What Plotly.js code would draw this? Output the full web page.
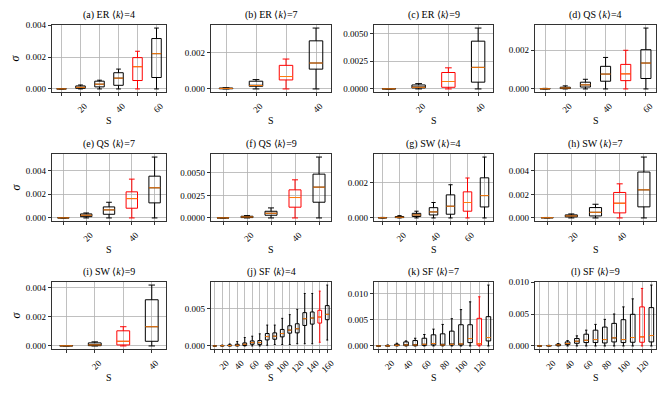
<!DOCTYPE html>
<html><head><meta charset="utf-8">
<script src="https://cdn.plot.ly/plotly-3.0.1.min.js"></script>
<style>html,body{margin:0;padding:0;background:#fff}#chart{width:664px;height:399px}</style>
</head><body><div id="chart"></div>
<script>
// ---------- data ----------
const titles = [
  "(a) ER ⟨<i>k</i>⟩=4", "(b) ER ⟨<i>k</i>⟩=7", "(c) ER ⟨<i>k</i>⟩=9", "(d) QS ⟨<i>k</i>⟩=4",
  "(e) QS ⟨<i>k</i>⟩=7", "(f) QS ⟨<i>k</i>⟩=9", "(g) SW ⟨<i>k</i>⟩=4", "(h) SW ⟨<i>k</i>⟩=7",
  "(i) SW ⟨<i>k</i>⟩=9", "(j) SF ⟨<i>k</i>⟩=4", "(k) SF ⟨<i>k</i>⟩=7", "(l) SF ⟨<i>k</i>⟩=9"
];
const sizes = [
  [10,20,30,40,50,60], [10,20,30,40], [10,20,30,40], [10,20,30,40,50,60],
  [10,20,30,40,50], [10,20,30,40,50], [10,20,30,40,50,60,70], [10,20,30,40,50],
  [10,20,30,40], [10,20,30,40,50,60,70,80,90,100,110,120,130,140,150,160],
  [10,20,30,40,50,60,70,80,90,100,110,120,130], [10,20,30,40,50,60,70,80,90,100,110,120,130]
];
const highlighted = [4, 2, 2, 4, 3, 3, 5, 3, 2, 14, 11, 11];
const whiskerLow = [
  [0,0,0,0,0,0], [0,0,0,0], [0,0,0,0], [0,0,0,0,0,0],
  [0,0,0,0,0], [0,0,0,0,0], [0,0,0,0,0,0,0], [0,0,0,0,0], [0,0,0,0],
  [0,0,0,0,0,0,0,0.0001,0.0002,0.0002,0.0002,0.0003,0.0003,0.0003,0.0005,0.0008],
  [0,0,0,0,0,0,0,0,0,0,0,0,0], [0,0,0,0,0,0,0,0,0,0,0,0,0]
];
const quart1 = [
  [0,0.00004,0.00013,0.00023,0.00053,0.00072],
  [0.00001,0.00015,0.0005,0.0011],
  [0,0.00009,0.00015,0.00061],
  [0,0.00002,0.0001,0.0004,0.00043,0.00054],
  [0,0.00011,0.00031,0.00082,0.00127],
  [0,0.00004,0.0003,0.00119,0.00174],
  [0,0.00002,0.00008,0.00017,0.00021,0.00038,0.00062],
  [0.00001,0.00009,0.00017,0.00043,0.00094],
  [0,0.00002,0.00007,0.00032],
  [0,0.00001,0.00001,0.00002,0.00005,0.00023,0.00018,0.00082,0.00091,0.00123,0.00173,0.00177,0.00277,0.00295,0.00309,0.00355],
  [0,0.00001,0.00006,0.00006,0.00006,0.00013,0.00019,0.00013,0.00019,0.00019,0.00064,0.00019,0.00096],
  [0,0.00001,0.00005,0.00021,0.00042,0.00053,0.00053,0.00047,0.00063,0.00053,0.00058,0.00058,0.00063]
];
const medians = [
  [0.000005,0.0001,0.0003,0.00068,0.0014,0.00222],
  [0.00003,0.00019,0.00069,0.00144],
  [0.00001,0.00015,0.00067,0.00194],
  [0.00001,0.00005,0.00021,0.00077,0.00078,0.00134],
  [0.00001,0.00023,0.00068,0.00163,0.00254],
  [0.00001,0.00011,0.00052,0.00226,0.00341],
  [0.00001,0.00004,0.00017,0.00034,0.00066,0.00087,0.00126],
  [0.00002,0.00017,0.00048,0.00125,0.00238],
  [0.00001,0.00007,0.00032,0.00132],
  [0,0.00003,0.00005,0.00009,0.00023,0.00045,0.00045,0.00127,0.00132,0.00168,0.00214,0.00232,0.00368,0.00377,0.00391,0.00427],
  [0,0.00002,0.00013,0.00019,0.00019,0.00032,0.00045,0.00019,0.00032,0.00038,0.00141,0.00045,0.0016],
  [0,0.00003,0.00016,0.00037,0.00074,0.00089,0.001,0.001,0.00126,0.001,0.00132,0.00142,0.00163]
];
const quart3 = [
  [0.00001,0.00019,0.00049,0.00102,0.00197,0.00317],
  [0.00005,0.00043,0.00131,0.00267],
  [0.00002,0.00036,0.00148,0.0043],
  [0.00002,0.00009,0.00035,0.00117,0.00127,0.00203],
  [0.00002,0.00034,0.00093,0.0022,0.00352],
  [0.00002,0.00019,0.00074,0.00311,0.00485],
  [0.00002,0.00008,0.00026,0.00058,0.0013,0.00147,0.00226],
  [0.00003,0.00026,0.00088,0.00216,0.00389],
  [0.00002,0.00021,0.00104,0.00317],
  [0.00001,0.00005,0.00014,0.00023,0.00041,0.00068,0.00073,0.00168,0.00177,0.00223,0.00273,0.003,0.0045,0.00459,0.00482,0.00545],
  [0.00001,0.00006,0.00032,0.00077,0.00103,0.00147,0.00212,0.00231,0.00282,0.00404,0.00404,0.00526,0.00558],
  [0.00001,0.00005,0.00026,0.00063,0.00116,0.00184,0.00247,0.00295,0.00353,0.00411,0.00495,0.00611,0.006]
];
const whiskerHigh = [
  [0.00002,0.00025,0.00055,0.00125,0.00237,0.00383],
  [0.00007,0.00052,0.00166,0.00338],
  [0.00003,0.00048,0.0019,0.00548],
  [0.00003,0.00016,0.0005,0.00163,0.002,0.00315],
  [0.00003,0.00042,0.00132,0.00327,0.00513],
  [0.00003,0.00026,0.00111,0.00422,0.00674],
  [0.00003,0.00013,0.00038,0.00087,0.00187,0.00225,0.00343],
  [0.00004,0.00034,0.00116,0.00289,0.00516],
  [0.00003,0.00028,0.00132,0.00418],
  [0.00002,0.00012,0.00027,0.00059,0.00114,0.00132,0.00164,0.00282,0.00282,0.00373,0.00423,0.00495,0.00709,0.00709,0.00741,0.00823],
  [0.00002,0.00019,0.00051,0.00096,0.00147,0.00218,0.0032,0.0041,0.00519,0.00692,0.0084,0.00936,0.0116],
  [0.00002,0.0001,0.00037,0.00084,0.00158,0.00247,0.00337,0.00416,0.005,0.00611,0.00737,0.009,0.00953]
];
const yTickStep = [0.002,0.002,0.0025,0.002,0.002,0.0025,0.002,0.002,0.002,0.005,0.005,0.005];
const yTickDecimals = [3,3,4,3,3,4,3,3,3,3,3,3];
const xLabel = 'S';
const yLabel = '<i>σ</i>';

// ---------- layout geometry (pixels) ----------
const W = 664, H = 399;
const colPx = [[52,166],[211,331],[374,493],[535,656]];
const rowPx = [[25,92],[154,221],[282,349]];
const FONT = 'Liberation Serif, "Times New Roman", serif';

const traces = [];
const layout = {
  width: W, height: H, margin: {l:0, r:0, t:0, b:0},
  showlegend: false, paper_bgcolor: 'white', plot_bgcolor: 'white',
  font: {family: FONT, size: 9, color: 'black'},
  annotations: []
};

for (let p = 0; p < 12; p++) {
  const suf = p === 0 ? '' : String(p + 1);
  const xa = 'x' + suf, ya = 'y' + suf;
  const S = sizes[p];
  const n = S.length;
  const bw = 10 * Math.min(0.15 * Math.max(n - 1, 1), 0.5);
  const r = highlighted[p];
  const others = S.map((_, i) => i).filter(i => i !== r);
  const pick = (arr, ids) => ids.map(i => arr[i]);
  const common = {type:'box', orientation:'v', xaxis:xa, yaxis:ya, width:bw, whiskerwidth:0.5,
                  boxpoints:false, fillcolor:'rgba(0,0,0,0)', hoverinfo:'skip'};
  traces.push(Object.assign({}, common, {
    x: pick(S, others), q1: pick(quart1[p], others), median: pick(medians[p], others),
    q3: pick(quart3[p], others), lowerfence: pick(whiskerLow[p], others), upperfence: pick(whiskerHigh[p], others),
    line: {color:'black', width:1}
  }));
  traces.push(Object.assign({}, common, {
    x: [S[r]], q1: [quart1[p][r]], median: [medians[p][r]], q3: [quart3[p][r]],
    lowerfence: [whiskerLow[p][r]], upperfence: [whiskerHigh[p][r]],
    line: {color:'red', width:1}
  }));
  const mx = [], my = [];
  S.forEach((s, i) => { mx.push(s - bw/2, s + bw/2, null); my.push(medians[p][i], medians[p][i], null); });
  traces.push({type:'scatter', mode:'lines', x:mx, y:my, xaxis:xa, yaxis:ya,
               line:{color:'#ff7f0e', width:1}, hoverinfo:'skip'});

  const col = p % 4, row = Math.floor(p / 4);
  const cx = colPx[col], ry = rowPx[row];
  const M = Math.max(...whiskerHigh[p]);
  layout['xaxis' + suf] = {
    anchor: ya, domain: [cx[0]/W, cx[1]/W],
    range: [S[0] - 5, S[n-1] + 5],
    tickmode: 'array', tickvals: S, ticktext: S.map(s => s % 20 === 0 ? String(s) : ''),
    tickangle: -45, ticklabelshift: 4, ticklabelstandoff: 1,
    ticks: 'outside', ticklen: 3.5, tickwidth: 0.8, tickcolor: 'black',
    showgrid: true, gridcolor: '#b0b0b0', gridwidth: 0.8, zeroline: false,
    showline: true, mirror: true, linecolor: 'black', linewidth: 0.8,
    tickfont: {family: FONT, size: 9, color: 'black'}
  };
  layout['yaxis' + suf] = {
    anchor: xa, domain: [1 - ry[1]/H, 1 - ry[0]/H],
    range: [-0.05 * M, 1.05 * M],
    tickmode: 'linear', tick0: 0, dtick: yTickStep[p], tickformat: '.' + yTickDecimals[p] + 'f',
    ticks: 'outside', ticklen: 3.5, tickwidth: 0.8, tickcolor: 'black',
    showgrid: true, gridcolor: '#b0b0b0', gridwidth: 0.8, zeroline: false,
    showline: true, mirror: true, linecolor: 'black', linewidth: 0.8,
    tickfont: {family: FONT, size: 9, color: 'black'}
  };
  // subplot title
  layout.annotations.push({
    xref: 'paper', yref: 'paper', x: (cx[0] + cx[1]) / 2 / W, y: 1 - ry[0]/H,
    xanchor: 'center', yanchor: 'bottom', yshift: 2, showarrow: false,
    text: titles[p], font: {family: FONT, size: 10, color: 'black'}
  });
  // x-axis label
  layout.annotations.push({
    xref: 'paper', yref: 'paper', x: (cx[0] + cx[1]) / 2 / W, y: 1 - (ry[1] + 28)/H,
    xanchor: 'center', yanchor: 'middle', showarrow: false,
    text: xLabel, font: {family: FONT, size: 10, color: 'black'}
  });
  // y-axis label (first column only)
  if (col === 0) {
    layout.annotations.push({
      xref: 'paper', yref: 'paper', x: 15 / W, y: 1 - (ry[0] + ry[1]) / 2 / H,
      xanchor: 'center', yanchor: 'middle', textangle: -90, showarrow: false,
      text: yLabel, font: {family: FONT, size: 12, color: 'black'}
    });
  }
}

Plotly.newPlot('chart', traces, layout, {staticPlot: true, displayModeBar: false});
</script>
</body></html>
